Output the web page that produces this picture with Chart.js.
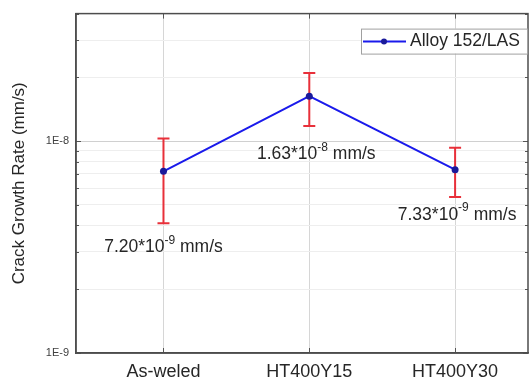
<!DOCTYPE html>
<html>
<head>
<meta charset="utf-8">
<script src="https://cdn.jsdelivr.net/npm/chart.js@4/dist/chart.umd.min.js"></script>
<style>
    html, body { margin: 0; padding: 0; background: #fff; }
</style>
</head>
<body>
<canvas id="crackChart" width="532" height="383"></canvas>
<script>
    const categories = ['As-weled', 'HT400Y15', 'HT400Y30'];
    const categoryPos = [1, 2, 3];
    const growthRate = [7.20e-9, 1.63e-8, 7.33e-9];
    const errorLow = [4.1e-9, 1.18e-8, 5.45e-9];
    const errorHigh = [1.03e-8, 2.1e-8, 9.3e-9];
    const rateMantissa = ['7.20', '1.63', '7.33'];
    const rateExponent = ['-9', '-8', '-9'];
    const yMajorTicks = [1e-9, 1e-8];
    const yMajorLabels = ['1E-9', '1E-8'];
    const yMinorTicks = [2e-9, 3e-9, 4e-9, 5e-9, 6e-9, 7e-9, 8e-9, 9e-9, 2e-8, 3e-8, 4e-8];

    const FONT = "'Liberation Sans', Arial, sans-serif";
    const TEXT = '#262626';

    function isMajor(v) {
        return yMajorTicks.some(function (m) { return Math.abs(m - v) / m < 1e-6; });
    }

    // error bars, drawn under the line
    const errorBars = {
        id: 'errorBars',
        beforeDatasetsDraw: function (chart) {
            const ctx = chart.ctx;
            const x = chart.scales.x, y = chart.scales.y;
            ctx.save();
            ctx.strokeStyle = '#e8303a';
            ctx.lineWidth = 2;
            for (let i = 0; i < growthRate.length; i++) {
                const px = x.getPixelForValue(categoryPos[i]);
                const top = y.getPixelForValue(errorHigh[i]);
                const bot = y.getPixelForValue(errorLow[i]);
                ctx.beginPath();
                ctx.moveTo(px, top); ctx.lineTo(px, bot);
                ctx.moveTo(px - 6, top); ctx.lineTo(px + 6, top);
                ctx.moveTo(px - 6, bot); ctx.lineTo(px + 6, bot);
                ctx.stroke();
            }
            ctx.restore();
        }
    };

    // frame, inner ticks, value labels and legend
    const decorations = {
        id: 'decorations',
        afterDraw: function (chart) {
            const ctx = chart.ctx;
            const a = chart.chartArea;
            const x = chart.scales.x, y = chart.scales.y;
            ctx.save();

            // inner ticks
            ctx.strokeStyle = '#555';
            ctx.lineWidth = 1;
            ctx.beginPath();
            yMajorTicks.concat(yMinorTicks).forEach(function (v) {
                const py = Math.round(y.getPixelForValue(v)) + 0.5;
                const len = isMajor(v) ? 5 : 3;
                ctx.moveTo(a.left, py); ctx.lineTo(a.left + len, py);
                ctx.moveTo(a.right, py); ctx.lineTo(a.right - len, py);
            });
            categoryPos.forEach(function (v) {
                const px = Math.round(x.getPixelForValue(v)) + 0.5;
                ctx.moveTo(px, a.bottom); ctx.lineTo(px, a.bottom - 5);
                ctx.moveTo(px, a.top); ctx.lineTo(px, a.top + 5);
            });
            ctx.stroke();

            // box
            ctx.strokeStyle = '#4d4d4d';
            ctx.lineWidth = 1.5;
            ctx.strokeRect(a.left, a.top, a.right - a.left, a.bottom - a.top);

            // value labels
            const dx = [0, 7, 2];
            const dy = [76, 58, 45];
            ctx.fillStyle = TEXT;
            ctx.textBaseline = 'middle';
            ctx.textAlign = 'left';
            for (let i = 0; i < growthRate.length; i++) {
                const head = rateMantissa[i] + '*10';
                const tail = ' mm/s';
                ctx.font = '17.5px ' + FONT;
                const wHead = ctx.measureText(head).width;
                const wTail = ctx.measureText(tail).width;
                ctx.font = '12px ' + FONT;
                const wSup = ctx.measureText(rateExponent[i]).width;
                const cx = x.getPixelForValue(categoryPos[i]) + dx[i];
                const cy = y.getPixelForValue(growthRate[i]) + dy[i];
                let sx = cx - (wHead + wSup + wTail) / 2;
                ctx.font = '17.5px ' + FONT;
                ctx.fillText(head, sx, cy);
                sx += wHead;
                ctx.font = '12px ' + FONT;
                ctx.fillText(rateExponent[i], sx, cy - 7);
                sx += wSup;
                ctx.font = '17.5px ' + FONT;
                ctx.fillText(tail, sx, cy);
            }

            // legend
            const bw = 166, bh = 25;
            const bx = a.right - bw - 1, by = a.top + 15;
            ctx.fillStyle = '#fff';
            ctx.fillRect(bx, by, bw, bh);
            ctx.strokeStyle = '#a0a0a0';
            ctx.lineWidth = 1;
            ctx.strokeRect(bx + 0.5, by + 0.5, bw, bh);
            const ly = by + bh / 2 + 0.5;
            ctx.strokeStyle = '#1a1aeb';
            ctx.lineWidth = 2;
            ctx.beginPath();
            ctx.moveTo(bx + 2, ly); ctx.lineTo(bx + 45, ly);
            ctx.stroke();
            ctx.fillStyle = '#1a1a9a';
            ctx.beginPath();
            ctx.arc(bx + 23, ly, 3, 0, Math.PI * 2);
            ctx.fill();
            ctx.fillStyle = TEXT;
            ctx.font = '17.5px ' + FONT;
            ctx.fillText('Alloy 152/LAS', bx + 49, ly);

            ctx.restore();
        }
    };

    const points = growthRate.map(function (v, i) {
        return { x: categoryPos[i], y: v };
    });

    const ctx = document.getElementById('crackChart').getContext('2d');

    new Chart(ctx, {
        type: 'line',
        data: {
            datasets: [{
                label: 'Alloy 152/LAS',
                data: points,
                borderColor: '#1a1aeb',
                borderWidth: 2,
                pointRadius: 3.5,
                pointBackgroundColor: '#1a1a9a',
                pointBorderColor: '#1a1a9a',
                pointBorderWidth: 0,
                tension: 0
            }]
        },
        options: {
            responsive: false,
            animation: false,
            layout: { padding: { top: 12, right: 2, left: 0, bottom: 0 } },
            plugins: {
                legend: { display: false },
                tooltip: { enabled: false }
            },
            scales: {
                x: {
                    type: 'linear',
                    min: 0.4,
                    max: 3.5,
                    afterBuildTicks: function (scale) {
                        scale.ticks = categoryPos.map(function (v) { return { value: v }; });
                    },
                    afterFit: function (scale) { scale.height = 30; },
                    ticks: {
                        padding: 8,
                        color: TEXT,
                        font: { family: FONT, size: 18 },
                        maxRotation: 0,
                        callback: function (v) {
                            const i = categoryPos.indexOf(v);
                            return i >= 0 ? categories[i] : '';
                        }
                    },
                    grid: { color: '#d6d6d6', drawTicks: false },
                    border: { color: '#4d4d4d', width: 1.5 }
                },
                y: {
                    type: 'logarithmic',
                    min: 1e-9,
                    max: 4e-8,
                    afterBuildTicks: function (scale) {
                        scale.ticks = yMajorTicks.concat(yMinorTicks).map(function (v) {
                            return { value: v, major: isMajor(v) };
                        });
                    },
                    afterFit: function (scale) { scale.width = 76; },
                    ticks: {
                        padding: 7,
                        color: '#404040',
                        font: { family: FONT, size: 11 },
                        autoSkip: false,
                        callback: function (v) {
                            for (let i = 0; i < yMajorTicks.length; i++) {
                                if (Math.abs(yMajorTicks[i] - v) / v < 1e-6) return yMajorLabels[i];
                            }
                            return '';
                        }
                    },
                    grid: {
                        drawTicks: false,
                        color: function (c) {
                            return c.tick && isMajor(c.tick.value) ? '#d0d0d0' : '#eeeeee';
                        }
                    },
                    border: { color: '#4d4d4d', width: 1.5 },
                    title: {
                        display: true,
                        text: 'Crack Growth Rate (mm/s)',
                        color: TEXT,
                        font: { family: FONT, size: 17 },
                        padding: { top: 9, bottom: 0 }
                    }
                }
            }
        },
        plugins: [errorBars, decorations]
    });
</script>
</body>
</html>
